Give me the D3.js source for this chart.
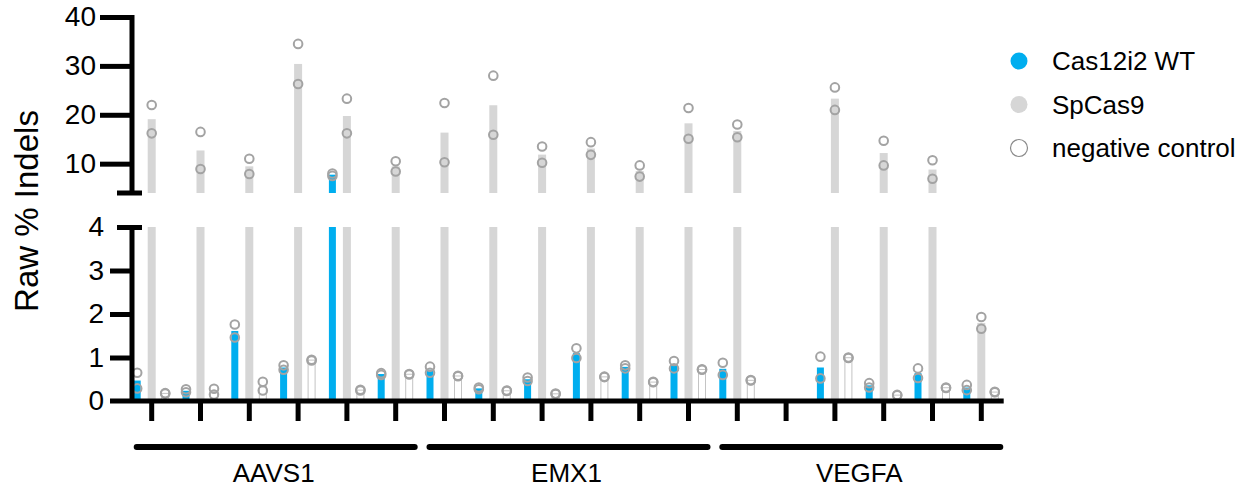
<!DOCTYPE html>
<html>
<head>
<meta charset="utf-8">
<script src="https://cdn.jsdelivr.net/npm/d3@7"></script>
<style>
  body { margin: 0; background: #fff; }
  text { font-family: "Liberation Sans", Arial, sans-serif; fill: #000; }
</style>
</head>
<body>
<svg width="1258" height="493"></svg>
<script>
// target loci, 6 sgRNA sites each
const groups = ["AAVS1", "EMX1", "VEGFA"];
const sitesPerGroup = 6;

// replicate values (% indels), null = not tested
const cas12i2 = [
  [0.65, 0.29], [0.27, 0.20], [1.76, 1.46], [0.82, 0.72], [8.0, 7.5], [0.64, 0.60],
  [0.79, 0.65], [0.31, 0.27], [0.54, 0.46], [1.21, 0.99], [0.82, 0.75], [0.92, 0.75],
  [0.88, 0.60], null, [1.02, 0.52], [0.41, 0.31], [0.75, 0.53], [0.37, 0.25]
];
const spcas9 = [
  [22.0, 16.2], [16.5, 8.9], [11.0, 7.9], [34.5, 26.3], [23.3, 16.2], [10.5, 8.4],
  [22.4, 10.3], [28.0, 15.9], [13.5, 10.2], [14.4, 11.8], [9.65, 7.35], [21.4, 15.1],
  [18.0, 15.4], null, [25.6, 21.0], [14.7, 9.65], [10.7, 6.9], [1.93, 1.66]
];
const negCtrl = [
  [0.18, 0.17], [0.28, 0.15], [0.44, 0.24], [0.95, 0.93], [0.26, 0.24], [0.62, 0.61],
  [0.58, 0.57], [0.24, 0.23], [0.17, 0.16], [0.56, 0.55], [0.44, 0.43], [0.73, 0.72],
  [0.48, 0.47], null, [1.0, 0.99], [0.14, 0.13], [0.31, 0.30], [0.21, 0.20]
];

const topTicks = [10, 20, 30, 40];
const bottomTicks = [0, 1, 2, 3, 4];
const legendLabels = ["Cas12i2 WT", "SpCas9", "negative control"];
const breakAt = 4;

const svg = d3.select("svg");
const sites = d3.range(cas12i2.length);

const x = d3.scaleBand().domain(sites).range([127.3, 1005.7]);
const yTop = d3.scaleLinear().domain([breakAt, 40]).range([193, 17]);
const yBot = d3.scaleLinear().domain([0, breakAt]).range([401, 227]);
const cx = i => x(i) + x.bandwidth() / 2;

const series = [
  { name: legendLabels[0], reps: cas12i2, dx: -14.5, w: 7, fill: "#00AEEF", stroke: "none" },
  { name: legendLabels[1], reps: spcas9, dx: 0, w: 8, fill: "#D6D6D6", stroke: "none" },
  { name: legendLabels[2], reps: negCtrl, dx: 13.5, w: 7, fill: "#fff", stroke: "#C4C4C4" }
];

// bars
series.forEach(s => {
  const rows = sites.filter(i => s.reps[i]).map(i => ({ i: i, v: d3.mean(s.reps[i]) }));
  const g = svg.append("g");
  g.selectAll("rect.bot").data(rows).enter().append("rect")
    .attr("x", d => cx(d.i) + s.dx - s.w / 2)
    .attr("width", s.w)
    .attr("y", d => yBot(Math.min(d.v, breakAt)))
    .attr("height", d => yBot(0) - yBot(Math.min(d.v, breakAt)))
    .attr("fill", s.fill).attr("stroke", s.stroke).attr("stroke-width", 1);
  g.selectAll("rect.top").data(rows.filter(d => d.v > breakAt)).enter().append("rect")
    .attr("x", d => cx(d.i) + s.dx - s.w / 2)
    .attr("width", s.w)
    .attr("y", d => yTop(d.v))
    .attr("height", d => yTop(breakAt) - yTop(d.v))
    .attr("fill", s.fill).attr("stroke", s.stroke).attr("stroke-width", 1);
});

// replicate dots
series.forEach(s => {
  const pts = [];
  sites.forEach(i => { if (s.reps[i]) s.reps[i].forEach(v => pts.push({ i: i, v: v })); });
  svg.append("g").selectAll("circle").data(pts).enter().append("circle")
    .attr("cx", d => cx(d.i) + s.dx)
    .attr("cy", d => d.v > breakAt ? yTop(d.v) : yBot(d.v))
    .attr("r", 4.3)
    .attr("fill", "none").attr("stroke", "#A3A3A3").attr("stroke-width", 2);
});

// y axes
const axX = 132;
const topAxis = svg.append("g").attr("transform", `translate(${axX},0)`)
  .call(d3.axisLeft(yTop).tickValues(topTicks).tickSize(32).tickPadding(4).tickFormat(d3.format("d")));
const botAxis = svg.append("g").attr("transform", `translate(${axX},0)`)
  .call(d3.axisLeft(yBot).tickValues(bottomTicks).tickSize(22).tickPadding(6).tickFormat(d3.format("d")));
[topAxis, botAxis].forEach(a => {
  a.select(".domain").remove();
  a.selectAll(".tick line").attr("stroke", "#000").attr("stroke-width", 5);
  a.selectAll(".tick text").style("font-size", "28px").attr("fill", "#000");
});
botAxis.selectAll(".tick").filter(d => d === 0).select("line").remove();
botAxis.selectAll(".tick").filter(d => d === breakAt).select("line").attr("x1", -15).attr("x2", 10);

svg.append("line").attr("x1", axX).attr("x2", axX).attr("y1", yTop(40) - 2).attr("y2", yTop(breakAt))
  .attr("stroke", "#000").attr("stroke-width", 5);
svg.append("line").attr("x1", axX - 15).attr("x2", axX + 10).attr("y1", yTop(breakAt)).attr("y2", yTop(breakAt))
  .attr("stroke", "#000").attr("stroke-width", 5);
svg.append("line").attr("x1", axX).attr("x2", axX).attr("y1", yBot(breakAt)).attr("y2", yBot(0))
  .attr("stroke", "#000").attr("stroke-width", 5);

// x axis
svg.append("line").attr("x1", 110).attr("x2", x.range()[1] - 2).attr("y1", yBot(0)).attr("y2", yBot(0))
  .attr("stroke", "#000").attr("stroke-width", 5);
const xAxis = svg.append("g").attr("transform", `translate(0,${yBot(0)})`)
  .call(d3.axisBottom(x).tickSize(20).tickFormat(""));
xAxis.select(".domain").remove();
xAxis.selectAll(".tick line").attr("stroke", "#000").attr("stroke-width", 5);

// group brackets
groups.forEach((gname, k) => {
  const first = k * sitesPerGroup, last = first + sitesPerGroup - 1;
  svg.append("line")
    .attr("x1", cx(first) - 15).attr("x2", cx(last) + 19)
    .attr("y1", 447).attr("y2", 447)
    .attr("stroke", "#000").attr("stroke-width", 6).attr("stroke-linecap", "round");
  svg.append("text")
    .attr("x", (cx(first) + cx(last)) / 2).attr("y", 482)
    .attr("text-anchor", "middle").style("font-size", "26px")
    .text(gname);
});

// y title
svg.append("text")
  .attr("transform", "translate(38,211) rotate(-90)")
  .attr("text-anchor", "middle").style("font-size", "33px")
  .text("Raw % Indels");

// legend
const leg = svg.append("g").attr("transform", "translate(1019,61)");
series.forEach((s, k) => {
  const row = leg.append("g").attr("transform", `translate(0,${k * 43.5})`);
  row.append("circle").attr("r", 8.5)
    .attr("fill", s.fill)
    .attr("stroke", s.stroke === "none" ? "none" : "#8A8A8A").attr("stroke-width", 1.2);
  row.append("text").attr("x", 33).attr("y", 9).style("font-size", "26px").text(s.name);
});
</script>
</body>
</html>
